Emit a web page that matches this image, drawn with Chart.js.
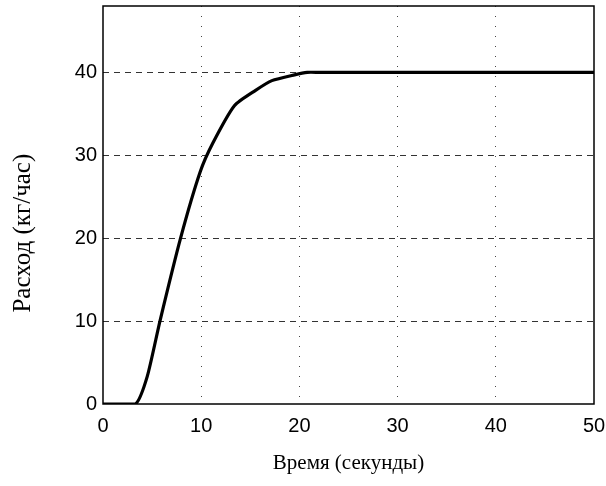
<!DOCTYPE html>
<html>
<head>
<meta charset="utf-8">
<script src="https://cdn.jsdelivr.net/npm/chart.js@4"></script>
<style>
html,body{margin:0;padding:0;background:#fff;}
#wrap{width:606px;height:486px;}
</style>
</head>
<body>
<div id="wrap"><canvas id="c" width="606" height="486"></canvas></div>
<script>
const timeSec = [0, 3.3, 4.5, 5.8, 7.9, 9.9, 11.2, 13.4, 15.5, 17.2, 19.5, 20.8, 22, 50];
const flowKgH = [0, 0, 3.3, 10, 20, 28, 31.5, 36, 37.8, 39, 39.7, 40, 40, 40];
const xTicks = [0, 10, 20, 30, 40, 50];
const yTicks = [0, 10, 20, 30, 40];
const xTitle = 'Время (секунды)';
const yTitle = 'Расход (кг/час)';

const points = timeSec.map((t, i) => ({x: t, y: flowKgH[i]}));

const frame = {
  id: 'frame',
  afterDraw(chart) {
    const {ctx, chartArea: a} = chart;
    ctx.save();
    ctx.strokeStyle = '#000';
    ctx.lineWidth = 1.5;
    ctx.strokeRect(a.left, a.top, a.right - a.left, a.bottom - a.top);
    ctx.restore();
  }
};

new Chart(document.getElementById('c'), {
  type: 'line',
  data: {
    datasets: [{
      data: points,
      borderColor: '#000',
      borderWidth: 3.2,
      pointRadius: 0,
      tension: 0.2,
      fill: false
    }]
  },
  options: {
    responsive: false,
    animation: false,
    layout: {padding: {left: 0, right: 12, top: 6, bottom: 0}},
    plugins: {legend: {display: false}, tooltip: {enabled: false}},
    scales: {
      x: {
        type: 'linear',
        min: 0, max: 50,
        afterBuildTicks: s => { s.ticks = xTicks.map(v => ({value: v})); },
        afterFit: s => { s.height = 82; s.paddingLeft = 0; s.paddingRight = 0; },
        ticks: {color: '#000', font: {family: 'Liberation Sans', size: 20}, padding: 10},
        grid: {
          color: c => (c.tick && c.tick.value > 0 && c.tick.value < 50) ? '#444' : 'rgba(0,0,0,0)',
          lineWidth: 1,
          drawTicks: false
        },
        border: {display: false, dash: [1, 9]},
        title: {display: true, text: xTitle, color: '#000',
          font: {family: 'Liberation Serif', size: 21}, padding: {top: 8, bottom: 10}}
      },
      y: {
        type: 'linear',
        min: 0, max: 48,
        afterBuildTicks: s => { s.ticks = yTicks.map(v => ({value: v})); },
        afterFit: s => { s.width = 103; s.paddingTop = 0; s.paddingBottom = 0; },
        ticks: {color: '#000', font: {family: 'Liberation Sans', size: 20}, padding: 6},
        grid: {
          color: c => (c.tick && c.tick.value > 0) ? '#333' : 'rgba(0,0,0,0)',
          lineWidth: 1,
          drawTicks: false
        },
        border: {display: false, dash: [6, 5]},
        title: {display: true, text: yTitle + '\u00A0'.repeat(9), color: '#000',
          font: {family: 'Liberation Serif', size: 25}, padding: {top: 8, bottom: 4}}
      }
    }
  },
  plugins: [frame]
});
</script>
</body>
</html>
